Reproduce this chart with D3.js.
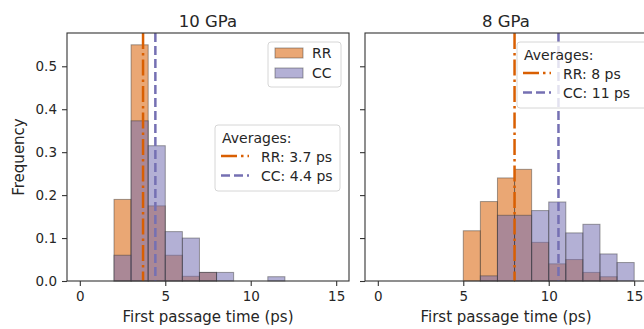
<!DOCTYPE html>
<html>
<head>
<meta charset="utf-8">
<style>
	body { margin: 0; background: #fff; }
	svg text { font-family: "DejaVu Sans", sans-serif; fill: #262626; }
</style>
<script src="https://cdn.jsdelivr.net/npm/d3@7"></script>
</head>
<body>
<script>
// histogram data, bin width 1 ps
var bins10 = [2, 3, 4, 5, 6, 7, 8, 9, 10, 11];
var rr10 = [0.19, 0.55, 0.175, 0.06, 0.011, 0.02, 0, 0, 0, 0];
var cc10 = [0.06, 0.373, 0.315, 0.115, 0.1, 0.02, 0.02, 0, 0, 0.01];
var avg10 = [3.7, 4.42];
var avgText10 = ["RR: 3.7 ps", "CC: 4.4 ps"];

var bins8 = [5, 6, 7, 8, 9, 10, 11, 12, 13, 14];
var rr8 = [0.117, 0.185, 0.24, 0.26, 0.09, 0.04, 0.05, 0.02, 0.01, 0];
var cc8 = [0, 0.012, 0.153, 0.153, 0.164, 0.184, 0.112, 0.132, 0.063, 0.043];
var avg8 = [8.0, 10.57];
var avgText8 = ["RR: 8 ps", "CC: 11 ps"];

var xTicks = [0, 5, 10, 15];
var yTicks = [0, 0.1, 0.2, 0.3, 0.4, 0.5];

var rrColor = "#d95f02", ccColor = "#7570b3";

var svg = d3.select("body").append("svg")
	.attr("width", 644)
	.attr("height", 329);

var plotTop = 33, plotBottom = 281;
var y = d3.scaleLinear().domain([0, 0.5775]).range([plotBottom, plotTop]);

function panel(left, right, title, bins, rr, cc, avg, showYLabels) {
	var x = d3.scaleLinear().domain([-0.75, 15.75]).range([left, right]);
	var g = svg.append("g");

	function bars(vals, color) {
		g.selectAll(null)
			.data(bins.map(function(b, i) { return {x0: b, v: vals[i]}; }).filter(function(d) { return d.v > 0; }))
			.enter().append("rect")
			.attr("x", function(d) { return x(d.x0); })
			.attr("width", function(d) { return x(d.x0 + 1) - x(d.x0); })
			.attr("y", function(d) { return y(d.v); })
			.attr("height", function(d) { return y(0) - y(d.v); })
			.attr("fill", color)
			.attr("fill-opacity", 0.55)
			.attr("stroke", "#333")
			.attr("stroke-opacity", 0.45)
			.attr("stroke-width", 1);
	}
	bars(rr, rrColor);
	bars(cc, ccColor);

	g.append("line")
		.attr("x1", x(avg[0])).attr("x2", x(avg[0]))
		.attr("y1", plotTop).attr("y2", plotBottom)
		.attr("stroke", rrColor).attr("stroke-width", 2.5)
		.attr("stroke-dasharray", "16,4,2.5,4");
	g.append("line")
		.attr("x1", x(avg[1])).attr("x2", x(avg[1]))
		.attr("y1", plotTop).attr("y2", plotBottom)
		.attr("stroke", ccColor).attr("stroke-width", 2.5)
		.attr("stroke-dasharray", "9,4");

	var xa = g.append("g")
		.attr("transform", "translate(0," + plotBottom + ")")
		.call(d3.axisBottom(x).tickValues(xTicks).tickSize(5).tickPadding(5).tickFormat(d3.format("d")));
	var ya = g.append("g")
		.attr("transform", "translate(" + left + ",0)")
		.call(d3.axisLeft(y).tickValues(yTicks).tickSize(5).tickPadding(5)
			.tickFormat(showYLabels ? d3.format(".1f") : ""));
	[xa, ya].forEach(function(a) {
		a.attr("font-family", null).attr("font-size", null);
		a.select(".domain").remove();
		a.selectAll(".tick line").attr("stroke", "#333").attr("stroke-width", 1.1);
		a.selectAll(".tick text").style("font-size", "13.5px").attr("fill", "#262626");
	});

	g.append("rect")
		.attr("x", left).attr("y", plotTop)
		.attr("width", right - left).attr("height", plotBottom - plotTop)
		.attr("fill", "none").attr("stroke", "#333").attr("stroke-width", 1.1);

	g.append("text")
		.attr("x", (left + right) / 2).attr("y", 27)
		.attr("text-anchor", "middle").style("font-size", "16.5px")
		.text(title);
	g.append("text")
		.attr("x", (left + right) / 2).attr("y", 322)
		.attr("text-anchor", "middle").style("font-size", "15px")
		.text("First passage time (ps)");
	return g;
}

function avgLegend(g, bx, by, bw, texts) {
	g.append("rect")
		.attr("x", bx).attr("y", by).attr("width", bw).attr("height", 66)
		.attr("rx", 3)
		.attr("fill", "#fff").attr("fill-opacity", 0.8)
		.attr("stroke", "#d6d6d6");
	g.append("text").attr("x", bx + 7).attr("y", by + 18).style("font-size", "14px").text("Averages:");
	var styles = [[rrColor, "16,4,2.5,4"], [ccColor, "9,4"]];
	texts.forEach(function(t, i) {
		var cy = by + 31 + i * 19.5;
		g.append("line")
			.attr("x1", bx + 6).attr("x2", bx + 34)
			.attr("y1", cy).attr("y2", cy)
			.attr("stroke", styles[i][0]).attr("stroke-width", 2.5)
			.attr("stroke-dasharray", styles[i][1]);
		g.append("text").attr("x", bx + 46).attr("y", cy + 5.5).style("font-size", "14px").text(t);
	});
}

var p1 = panel(67, 349, "10 GPa", bins10, rr10, cc10, avg10, true);
var p2 = panel(365, 647, "8 GPa", bins8, rr8, cc8, avg8, false);

// histogram legend
p1.append("rect")
	.attr("x", 268).attr("y", 42).attr("width", 73).attr("height", 45)
	.attr("rx", 3)
	.attr("fill", "#fff").attr("fill-opacity", 0.8)
	.attr("stroke", "#d6d6d6");
[["RR", rrColor], ["CC", ccColor]].forEach(function(d, i) {
	p1.append("rect")
		.attr("x", 275).attr("y", 48 + i * 20).attr("width", 28).attr("height", 10)
		.attr("fill", d[1]).attr("fill-opacity", 0.55)
		.attr("stroke", "#333").attr("stroke-opacity", 0.45);
	p1.append("text").attr("x", 312).attr("y", 58 + i * 20).style("font-size", "14px").text(d[0]);
});

avgLegend(p1, 215, 125, 125, avgText10);
avgLegend(p2, 517, 42, 140, avgText8);

svg.append("text")
	.attr("transform", "translate(24,157) rotate(-90)")
	.attr("text-anchor", "middle").style("font-size", "15px")
	.text("Frequency");
</script>
</body>
</html>
